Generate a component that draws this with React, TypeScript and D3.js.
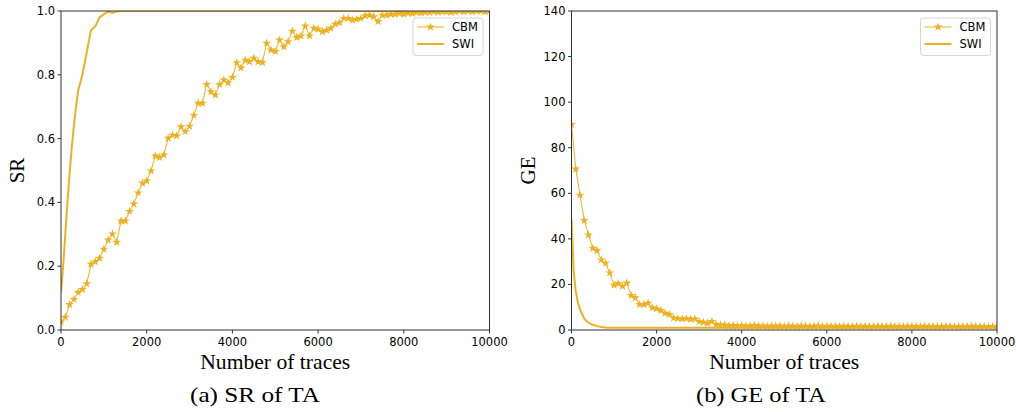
import React from 'react';
import * as d3 from 'd3';

const COLOR = '#EDB120';
const TICK_FONT = 'DejaVu Sans, sans-serif';
const SERIF = 'Liberation Serif, DejaVu Serif, serif';

// CBM traces are sampled every 100 traces, 0..10000
const cbmTraces = [
  0, 100, 200, 300, 400, 500, 600, 700, 800, 900,
  1000, 1100, 1200, 1300, 1400, 1500, 1600, 1700, 1800, 1900,
  2000, 2100, 2200, 2300, 2400, 2500, 2600, 2700, 2800, 2900,
  3000, 3100, 3200, 3300, 3400, 3500, 3600, 3700, 3800, 3900,
  4000, 4100, 4200, 4300, 4400, 4500, 4600, 4700, 4800, 4900,
  5000, 5100, 5200, 5300, 5400, 5500, 5600, 5700, 5800, 5900,
  6000, 6100, 6200, 6300, 6400, 6500, 6600, 6700, 6800, 6900,
  7000, 7100, 7200, 7300, 7400, 7500, 7600, 7700, 7800, 7900,
  8000, 8100, 8200, 8300, 8400, 8500, 8600, 8700, 8800, 8900,
  9000, 9100, 9200, 9300, 9400, 9500, 9600, 9700, 9800, 9900,
  10000,
];

const cbmSR = [
  0.025, 0.04, 0.08, 0.096, 0.118, 0.127, 0.145, 0.206, 0.214, 0.225,
  0.253, 0.282, 0.301, 0.275, 0.342, 0.342, 0.372, 0.395, 0.43, 0.46,
  0.467, 0.499, 0.546, 0.541, 0.549, 0.601, 0.611, 0.609, 0.637, 0.622,
  0.639, 0.673, 0.711, 0.711, 0.77, 0.747, 0.737, 0.77, 0.784, 0.775,
  0.792, 0.838, 0.822, 0.846, 0.841, 0.852, 0.841, 0.839, 0.899, 0.878,
  0.873, 0.909, 0.888, 0.904, 0.937, 0.917, 0.922, 0.953, 0.922, 0.946,
  0.943, 0.935, 0.94, 0.946, 0.959, 0.963, 0.977, 0.977, 0.972, 0.974,
  0.977, 0.985, 0.987, 0.982, 0.967, 0.987, 0.987, 0.99, 0.99, 0.992,
  0.99, 0.994, 0.992, 0.996, 0.994, 0.996, 0.996, 0.998, 0.996, 0.998,
  0.998, 0.996, 0.998, 1.0, 0.998, 1.0, 0.998, 1.0, 1.0, 0.998,
  1.0,
];

const cbmGE = [
  90.2, 70.7, 59.2, 48.1, 41.7, 35.9, 34.9, 30.8, 29.3, 25.1,
  19.7, 20.4, 19.2, 20.7, 15.2, 14.2, 11.2, 11.2, 11.8, 9.8,
  9.3, 8.6, 7.4, 6.8, 5.3, 5.0, 4.9, 5.0, 4.7, 4.9,
  3.7, 3.4, 3.0, 3.8, 2.4, 2.2, 2.2, 1.8, 2.0, 1.8,
  1.9, 1.7, 1.8, 2.0, 1.7, 1.8, 1.6, 1.8, 1.7, 1.8,
  1.6, 1.8, 1.7, 1.6, 1.8, 1.7, 1.6, 1.7, 1.8, 1.6,
  1.7, 1.6, 1.7, 1.6, 1.7, 1.6, 1.6, 1.7, 1.6, 1.7,
  1.6, 1.6, 1.7, 1.6, 1.6, 1.7, 1.6, 1.6, 1.6, 1.7,
  1.6, 1.6, 1.6, 1.7, 1.6, 1.6, 1.6, 1.6, 1.7, 1.6,
  1.6, 1.6, 1.6, 1.6, 1.7, 1.6, 1.6, 1.6, 1.6, 1.6,
  1.6,
];

// SWI is denser at the start
const swiTraces = [
  0, 50, 100, 150, 200, 250, 300, 350, 400, 500, 600, 700, 800, 900,
  1000, 1100, 1200, 1300, 1400, 1600, 2000, 3000, 4000, 5000, 6000, 7000, 8000, 9000, 10000,
];

const swiSR = [
  0.117, 0.2, 0.3, 0.4, 0.49, 0.57, 0.64, 0.70, 0.75, 0.80, 0.87, 0.94, 0.952, 0.98,
  0.99, 0.998, 0.994, 0.999, 1.0, 1.0, 1.0, 1.0, 1.0, 1.0, 1.0, 1.0, 1.0, 1.0, 1.0,
];

const swiGE = [
  48.5, 26, 17, 12, 9, 7, 5, 4, 3.2, 2.3, 1.7, 1.3, 1.1, 1.0,
  1.0, 1.0, 1.0, 1.0, 1.0, 1.0, 1.0, 1.0, 1.0, 1.0, 1.0, 1.0, 1.0, 1.0, 1.0,
];

const xTicks = [0, 2000, 4000, 6000, 8000, 10000];
const srTicks = [0, 0.2, 0.4, 0.6, 0.8, 1.0];
const geTicks = [0, 20, 40, 60, 80, 100, 120, 140];

const starPath = d3.symbol().type(d3.symbolStar).size(24)();

function Legend({ right, top }) {
  const w = 70, h = 37.5;
  const x0 = right - w;
  return (
    <g transform={`translate(${x0},${top})`}>
      <rect width={w} height={h} rx={3} fill="#fff" fillOpacity={0.8} stroke="#d6d6d6" strokeWidth={1} />
      <line x1={4} x2={31} y1={9} y2={9} stroke={COLOR} strokeWidth={1} />
      <path d={starPath} transform="translate(17.5,9)" fill={COLOR} />
      <text x={39} y={13} fontSize={11.5} fontFamily={TICK_FONT} fill="#000">CBM</text>
      <line x1={4} x2={31} y1={26} y2={26} stroke={COLOR} strokeWidth={2} />
      <text x={39} y={30} fontSize={11.5} fontFamily={TICK_FONT} fill="#000">SWI</text>
    </g>
  );
}

function Panel({ id, left, right, top, bottom, yMax, yTicks, yFormat, cbm, swi, yLabel, yLabelX, caption, captionX }) {
  const x = d3.scaleLinear().domain([0, 10000]).range([left, right]);
  const y = d3.scaleLinear().domain([0, yMax]).range([bottom, top]);
  const line = d3.line<number>().x((d, i) => x(d[0])).y(d => y(d[1]));
  const cbmPts = cbmTraces.map((t, i) => [t, cbm[i]]);
  const swiPts = swiTraces.map((t, i) => [t, swi[i]]);
  const midX = (left + right) / 2;

  return (
    <g>
      <defs>
        <clipPath id={`clip-${id}`}>
          <rect x={left} y={top} width={right - left} height={bottom - top} />
        </clipPath>
      </defs>
      <g clipPath={`url(#clip-${id})`}>
        <path d={line(cbmPts)} fill="none" stroke={COLOR} strokeWidth={1} />
        {cbmPts.map((p, i) => (
          <path key={`s-${i}`} d={starPath} transform={`translate(${x(p[0])},${y(p[1])})`} fill={COLOR} />
        ))}
        <path d={line(swiPts)} fill="none" stroke={COLOR} strokeWidth={2} strokeLinejoin="round" />
      </g>

      {/* spines */}
      <rect x={left} y={top} width={right - left} height={bottom - top} fill="none" stroke="#333" strokeWidth={1} />

      {xTicks.map(t => (
        <g key={`xt-${t}`}>
          <line x1={x(t)} x2={x(t)} y1={bottom} y2={bottom + 3.5} stroke="#333" />
          <text x={x(t)} y={bottom + 15.5} textAnchor="middle" fontSize={11.5} fontFamily={TICK_FONT} fill="#000">{t}</text>
        </g>
      ))}
      {yTicks.map(t => (
        <g key={`yt-${t}`}>
          <line x1={left - 3.5} x2={left} y1={y(t)} y2={y(t)} stroke="#333" />
          <text x={left - 6} y={y(t) + 4} textAnchor="end" fontSize={11.5} fontFamily={TICK_FONT} fill="#000">{yFormat(t)}</text>
        </g>
      ))}

      <text x={midX} y={369} textAnchor="middle" fontSize={21} textLength={150} lengthAdjust="spacingAndGlyphs" fontFamily={SERIF} fill="#000">Number of traces</text>
      <text transform={`translate(${yLabelX},${(top + bottom) / 2}) rotate(-90)`} textAnchor="middle" fontSize={21} fontFamily={SERIF} fill="#000">{yLabel}</text>
      <text x={captionX} y={402} textAnchor="middle" fontSize={21} textLength={130} lengthAdjust="spacingAndGlyphs" fontFamily={SERIF} fill="#000">{caption}</text>

      <Legend right={right - 6.5} top={top + 7} />
    </g>
  );
}

export default function App() {
  return (
    <svg width={1016} height={412} viewBox="0 0 1016 412" style={{ position: 'absolute', left: 0, top: 0, background: '#fff' }} xmlns="http://www.w3.org/2000/svg">
      <Panel id="sr" left={61} right={489.5} top={11} bottom={330} yMax={1.0} yTicks={srTicks}
        yFormat={d3.format('.1f')} cbm={cbmSR} swi={swiSR} yLabel="SR" yLabelX={24}
        caption="(a) SR of TA" captionX={255} />
      <Panel id="ge" left={571.5} right={997} top={11} bottom={330} yMax={140} yTicks={geTicks}
        yFormat={d3.format('d')} cbm={cbmGE} swi={swiGE} yLabel="GE" yLabelX={535}
        caption="(b) GE of TA" captionX={761} />
    </svg>
  );
}
